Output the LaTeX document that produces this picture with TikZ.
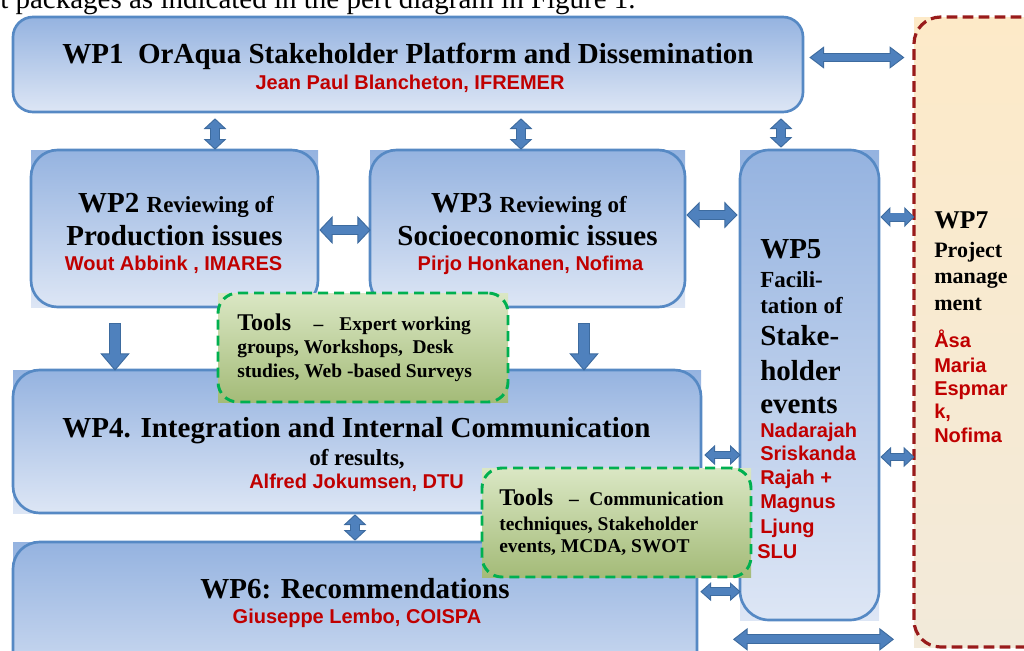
\documentclass[tikz,border=0pt]{standalone}
\usepackage{fontspec}
\setmainfont{Liberation Serif}
\setsansfont{Liberation Sans}
\usetikzlibrary{arrows.meta,fit,calc}
\definecolor{wptop}{HTML}{95B3E0}
\definecolor{wpbot}{HTML}{DDE6F5}
\definecolor{wpborder}{HTML}{5689C4}
\definecolor{arrowblue}{HTML}{4F81BD}
\definecolor{arrowdark}{HTML}{3D6B9F}
\definecolor{redtxt}{HTML}{C00000}
\definecolor{tooltop}{HTML}{DAE7C4}
\definecolor{toolbot}{HTML}{A4BB78}
\definecolor{toolborder}{HTML}{00B050}
\definecolor{pmtop}{HTML}{FDEAC8}
\definecolor{pmbot}{HTML}{F2EADA}
\definecolor{pmborder}{HTML}{991B1B}
\newcommand\szA{\fontsize{21.75}{26}\selectfont}
\newcommand\szB{\fontsize{17.25}{20}\selectfont}
\newcommand\szP{\fontsize{16.5}{20}\selectfont}
\newcommand\szW{\fontsize{19.2}{22}\selectfont}
\newcommand\szR{\fontsize{15}{18}\selectfont}
\newcommand\szT{\fontsize{18}{20}\selectfont}
\newcommand\szS{\fontsize{14.6}{18}\selectfont}
\tikzset{
  wpframe/.style={draw=wpborder, line width=2pt, rounded corners=#1, inner sep=0pt},
  wpframe/.default=18pt,
  toolframe/.style={draw=toolborder, line width=2.2pt, dash pattern=on 7.5pt off 4.5pt, rounded corners=15pt, inner sep=0pt},
  pmframe/.style={draw=pmborder, line width=2.4pt, dash pattern=on 8pt off 4pt, rounded corners=20pt, inner sep=0pt},
  bk/.style={inner sep=0pt, anchor=base, font=\bfseries},
  bkl/.style={inner sep=0pt, anchor=base west, font=\bfseries},
  rd/.style={inner sep=0pt, anchor=base, text=redtxt, font=\sffamily\bfseries\szR},
  rdl/.style={inner sep=0pt, anchor=base west, text=redtxt, font=\sffamily\bfseries\szR},
  blk/.style n args={3}{draw=arrowdark, line width=#1,
    arrows={Triangle[width=#2,length=#3,line width=0.7pt,fill=arrowblue]-Triangle[width=#2,length=#3,line width=0.7pt,fill=arrowblue]},
    postaction={draw=arrowblue, line width=#1-1.3pt, arrows=-, shorten >=#3-1pt, shorten <=#3-1pt}},
  blkone/.style n args={3}{draw=arrowdark, line width=#1,
    arrows={-Triangle[width=#2,length=#3,line width=0.7pt,fill=arrowblue]},
    postaction={draw=arrowblue, line width=#1-1.3pt, arrows=-, shorten >=#3-1pt, shorten <=0.6pt}}
}
\begin{document}
\begin{tikzpicture}[x=0.75pt,y=-0.75pt]
\useasboundingbox (0,0) rectangle (1024,650);
\clip (0,0) rectangle (1024,650);

% cropped caption line at top
\node[inner sep=0pt, anchor=base west] (cap) at (0,8) {\fontsize{21.75}{26}\selectfont t packages as indicated in the pert diagram in Figure 1.};

% ---- WP boxes ----
\shade[top color=wptop,bottom color=wpbot,rounded corners=15pt] (13,17) rectangle (803,112);
\node[wpframe=15pt,fit={(13,17)(803,112)}] (wp1) {};

\shade[top color=wptop,bottom color=wpbot] (31,150) rectangle (318,307);
\node[wpframe=20pt,fit={(31,150)(318,307)}] (wp2) {};

\shade[top color=wptop,bottom color=wpbot] (370,150) rectangle (685,307);
\node[wpframe=20pt,fit={(370,150)(685,307)}] (wp3) {};

\shade[top color=wptop,bottom color=wpbot] (740,150) rectangle (879,620);
\node[wpframe=22pt,fit={(740,150)(879,620)}] (wp5) {};

\shade[top color=wptop,bottom color=wpbot] (13,370) rectangle (701,513);
\node[wpframe=20pt,fit={(13,370)(701,513)}] (wp4) {};

\shade[top color=wptop,bottom color=wpbot] (13,542) rectangle (697,720);
\node[wpframe=20pt,fit={(13,542)(697,720)}] (wp6) {};

\shade[top color=pmtop,bottom color=pmbot] (914,17) rectangle (1080,647);
\node[pmframe,fit={(914,17)(1080,647)}] (wp7) {};

% ---- connectors ----
\draw[blk={6.75pt}{16.5pt}{11pt}] ($(wp1.east)+(5,-7)$) -- ($(wp1.east -| wp7.west)+(-8,-7)$);
\draw[blk={7.5pt}{17pt}{8pt}] ($(wp1.south -| wp2.north)+(40.5,5)$) -- ($(wp2.north)+(40.5,1)$);
\draw[blk={7.5pt}{17pt}{8pt}] ($(wp1.south -| wp3.north)+(-6.5,5)$) -- ($(wp3.north)+(-6.5,1)$);
\draw[blk={7.5pt}{17pt}{8pt}] ($(wp1.south -| wp5.north)+(-28.5,5)$) -- ($(wp5.north)+(-28.5,-1)$);
\draw[blk={8pt}{21pt}{10pt}] ($(wp2.east)+(0,1.5)$) -- ($(wp3.west)+(2,1.5)$);
\draw[blk={8pt}{20pt}{10pt}] ($(wp3.east)+(0,-13.5)$) -- ($(wp3.east -| wp5.west)+(-1,-13.5)$);
\draw[blk={6.75pt}{15pt}{7.5pt}] ($(wp5.east |- wp3.east)+(0,-11.5)$) -- ($(wp3.east -| wp7.west)+(2,-11.5)$);
\coordinate (r4) at ($(wp4.east)+(2,13.5)$);
\draw[blk={6.5pt}{15pt}{8pt}] (r4) -- ($(r4 -| wp5.west)+(2,0)$);
\coordinate (r5) at ($(wp5.east |- r4)+(0,2)$);
\draw[blk={6.5pt}{15pt}{8pt}] (r5) -- ($(r5 -| wp7.west)+(2,0)$);
\coordinate (r6) at ($(wp6.north east)+(2,51)$);
\draw[blk={6.5pt}{14pt}{8pt}] (r6) -- ($(r6 -| wp5.west)+(2,0)$);
\draw[blkone={9.5pt}{22pt}{13pt}] ($(wp2.south)+(-59.5,15)$) -- ($(wp2.south |- wp4.north)+(-59.5,2)$);
\draw[blkone={9.5pt}{22pt}{13pt}] ($(wp3.south)+(56.5,15)$) -- ($(wp3.south |- wp4.north)+(56.5,2)$);
\draw[blk={7.5pt}{17pt}{8pt}] ($(wp4.south)+(-2,0)$) -- ($(wp4.south |- wp6.north)+(-2,0)$);
\coordinate (bl) at ($(wp5.south)+(-76.5,18)$);
\coordinate (br) at ($(wp5.south)+(84.5,18)$);
\draw[blk={7.5pt}{17pt}{11pt}] (bl) -- (br);

% ---- tools boxes ----
\shade[top color=tooltop,bottom color=toolbot] (218,293) rectangle (508,402);
\node[toolframe,fit={(218,293)(508,402)}] (tools1) {};
\shade[top color=tooltop,bottom color=toolbot] (482,468) rectangle (751,577);
\node[toolframe,fit={(482,468)(751,577)}] (tools2) {};

% ---- texts ----
\node[bk] (t1a) at (408,63) {\szA WP1\ \ OrAqua Stakeholder Platform and Dissemination};
\node[rd] (t1b) at (410,89) {Jean Paul Blancheton, IFREMER};

\node[bk] (t2a) at (176,212) {\szA WP2 \szB Reviewing of};
\node[bk] (t2b) at (174.5,245) {\szA Production issues};
\node[rd] (t2c) at (173.5,270) {Wout Abbink , IMARES};

\node[bk] (t3a) at (529,212) {\szA WP3 \szB Reviewing of};
\node[bk] (t3b) at (527.5,245) {\szA Socioeconomic issues};
\node[rd] (t3c) at (530.5,270) {Pirjo Honkanen, Nofima};

\node[bk] (t4a) at (356.5,437) {\szA WP4. Integration and Internal Communication};
\node[bk] (t4b) at (357,465) {\szB of results,};
\node[rd] (t4c) at (356.5,488) {Alfred Jokumsen, DTU};

\node[bk] (t6a) at (355,598) {\szA WP6: Recommendations};
\node[rd] (t6b) at (357,623) {Giuseppe Lembo, COISPA};

\node[bkl] (t5a) at (760,258) {\szA WP5};
\node[bkl] (t5b) at (760,287) {\szB Facili-};
\node[bkl] (t5c) at (760,313) {\szB tation of};
\node[bkl] (t5d) at (760,345) {\szA Stake-};
\node[bkl] (t5e) at (760,380) {\szA holder};
\node[bkl] (t5f) at (760,413) {\szA events};
\node[rdl] (t5g) at (760,437) {Nadarajah};
\node[rdl] (t5h) at (760,460) {Sriskanda};
\node[rdl] (t5i) at (760,484) {Rajah +};
\node[rdl] (t5j) at (760,508) {Magnus};
\node[rdl] (t5k) at (760,533) {Ljung};
\node[rdl] (t5l) at (757,558) {SLU};

\node[bkl] (t7a) at (934,228) {\szW WP7};
\node[bkl] (t7b) at (934,257) {\szP Project};
\node[bkl] (t7c) at (934,283) {\szP manage};
\node[bkl] (t7d) at (934,310) {\szP ment};
\node[rdl] (t7e) at (934,347) {Åsa};
\node[rdl] (t7f) at (934,372) {Maria};
\node[rdl] (t7g) at (934,395) {Espmar};
\node[rdl] (t7h) at (934,418) {k,};
\node[rdl] (t7i) at (934,442) {Nofima};

\node[bkl] (ta1) at (237,330) {\szT Tools\hspace{17pt}\szS –\hspace{12pt}Expert working};
\node[bkl] (ta2) at (237,353) {\szS groups, Workshops,\ \ Desk};
\node[bkl] (ta3) at (237,377) {\szS studies, Web -based Surveys};

\node[bkl] (tb1) at (499,505) {\szT Tools\hspace{12pt}\szS –\hspace{8pt}Communication};
\node[bkl] (tb2) at (499,530) {\szS techniques, Stakeholder};
\node[bkl] (tb3) at (499,552) {\szS events, MCDA, SWOT};
\end{tikzpicture}
\end{document}
